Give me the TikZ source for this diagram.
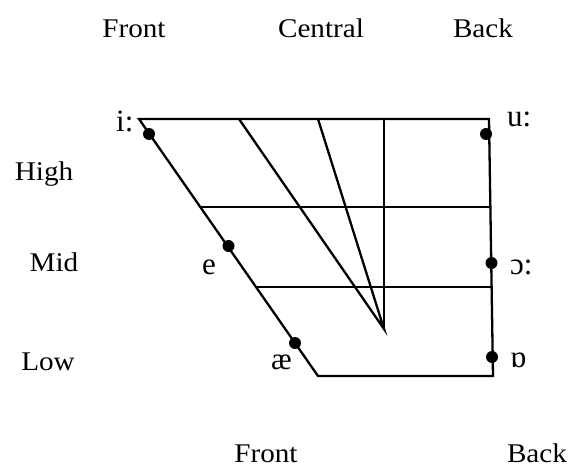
\documentclass[tikz,border=0pt]{standalone}
\usepackage{fontspec}
\setmainfont{Liberation Serif}
\tikzset{
  lbl/.style={font=\fontsize{27}{27}\selectfont, inner sep=0pt, xscale=1.08, transform shape},
  vlbl/.style={font=\fontsize{31}{31}\selectfont, inner sep=0pt, anchor=base west},
  chart/.style={line width=2.3pt, line join=miter},
  vdot/.style={circle, fill=black, inner sep=0pt, minimum size=12pt}
}
\begin{document}
\begin{tikzpicture}[x=1pt,y=-1pt]
\useasboundingbox (0,0) rectangle (571,468);
% corners
\coordinate (TL) at (139,119);
\coordinate (TR) at (489,119);
\coordinate (BL) at (318,376);
\coordinate (BR) at (493,376);
\coordinate (H1L) at (200.3,207);
\coordinate (H1R) at (490.4,207);
\coordinate (H2L) at (256,287);
\coordinate (H2R) at (492.4,287);
\coordinate (apex) at (384,329);
\coordinate (vtop) at (384,119);
\coordinate (d1) at (239,119);
\coordinate (d2) at (318,119);
\draw[chart] (TR) -- (TL) -- (BL) -- (BR) -- cycle;
\draw[chart] (H1L) -- (H1R);
\draw[chart] (H2L) -- (H2R);
\draw[chart] (vtop) -- (apex);
\draw[chart] (d1) -- (apex) -- (d2);
% dots
\node[vdot] (di) at (149,134) {};
\node[vdot] (de) at (228.5,246) {};
\node[vdot] (dae) at (295,343) {};
\node[vdot] (du) at (486,134) {};
\node[vdot] (do) at (491.5,263) {};
\node[vdot] (dq) at (492,357) {};
% vowel labels
\node[vlbl] (li) at (116,132) {i:};
\node[vlbl] (le) at (202,275) {e};
\node[vlbl] (lae) at (271,369) {æ};
\node[vlbl] (lu) at (507,127) {u:};
\node[vlbl] (lo) at (510,274) {ɔ:};
\node[vlbl] (lq) at (510,367) {ɒ};
% axis labels
\node[lbl, anchor=base] (front) at (134,38) {Front};
\node[lbl, anchor=base] (central) at (321,38) {Central};
\node[lbl, anchor=base] (back) at (483,38) {Back};
\node[lbl, anchor=base] (high) at (44,181) {High};
\node[lbl, anchor=base] (mid) at (54,272) {Mid};
\node[lbl, anchor=base] (low) at (48,370) {Low};
\node[lbl, anchor=base] (front2) at (266,462) {Front};
\node[lbl, anchor=base] (back2) at (537,462) {Back};
\end{tikzpicture}
\end{document}
